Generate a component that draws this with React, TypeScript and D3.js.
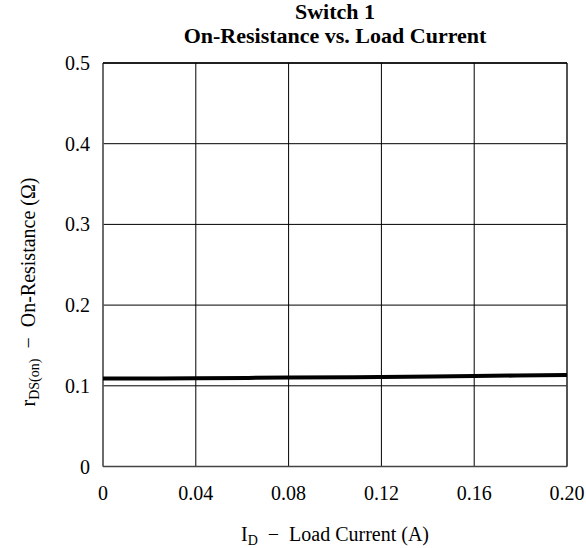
import React from "react";
import * as d3 from "d3";

const currents = [0, 0.04, 0.08, 0.12, 0.16, 0.2];
const resistance = [0.109, 0.1093, 0.1102, 0.111, 0.1122, 0.1133];
const xTicks = [0, 0.04, 0.08, 0.12, 0.16, 0.2];
const xTickLabels = ["0", "0.04", "0.08", "0.12", "0.16", "0.20"];
const yTicks = [0, 0.1, 0.2, 0.3, 0.4, 0.5];
const yTickLabels = ["0", "0.1", "0.2", "0.3", "0.4", "0.5"];

const W = 586, H = 548;
const L = 103, R = 567, T = 63, B = 466.5;
const font = "'Liberation Serif', 'Times New Roman', serif";

export default function App() {
  const x = d3.scaleLinear().domain([0, 0.2]).range([L, R]);
  const y = d3.scaleLinear().domain([0, 0.5]).range([B, T]);
  const line = d3.line<number>().x((_, i) => x(currents[i])).y((d) => y(d)).curve(d3.curveMonotoneX);
  return (
    <svg width={W} height={H} style={{ position: "absolute", left: 0, top: 0, background: "#fff" }} fontFamily={font}>
      <text x={335} y={18.5} textAnchor="middle" fontWeight="bold" fontSize={22}>Switch 1</text>
      <text x={335} y={43} textAnchor="middle" fontWeight="bold" fontSize={22}>On-Resistance vs. Load Current</text>
      {xTicks.map((t, i) => (
        <line key={"gx" + i} x1={x(t)} x2={x(t)} y1={T} y2={B} stroke="#000" strokeWidth={1} />
      ))}
      {yTicks.map((t, i) => (
        <line key={"gy" + i} x1={L} x2={R} y1={y(t)} y2={y(t)} stroke="#000" strokeWidth={1} />
      ))}
      <line x1={L} x2={L} y1={T} y2={B} stroke="#666" strokeWidth={1.5} />
      <line x1={L} x2={R} y1={B} y2={B} stroke="#444" strokeWidth={1.5} />
      <line x1={R} x2={R} y1={T} y2={B} stroke="#444" strokeWidth={1.5} />
      <line x1={L} x2={R} y1={T} y2={T} stroke="#000" strokeWidth={1.5} />
      <path d={line(resistance) || ""} fill="none" stroke="#000" strokeWidth={4} />
      {yTicks.map((t, i) => (
        <text key={"yl" + i} x={90} y={y(t)} dy="0.35em" textAnchor="end" fontSize={20}>{yTickLabels[i]}</text>
      ))}
      {xTicks.map((t, i) => (
        <text key={"xl" + i} x={x(t)} y={500} textAnchor="middle" fontSize={20}>{xTickLabels[i]}</text>
      ))}
      <text x={335} y={541} textAnchor="middle" fontSize={20} xmlSpace="preserve">
        I<tspan fontSize={14} dy={4}>D</tspan><tspan dy={-4}>{"  −  Load Current (A)"}</tspan>
      </text>
      <text transform={`translate(35,292) rotate(-90)`} textAnchor="middle" fontSize={20} xmlSpace="preserve">
        r<tspan fontSize={14} dy={4}>DS(on)</tspan><tspan dy={-4}>{"  −  On-Resistance (Ω)"}</tspan>
      </text>
    </svg>
  );
}
